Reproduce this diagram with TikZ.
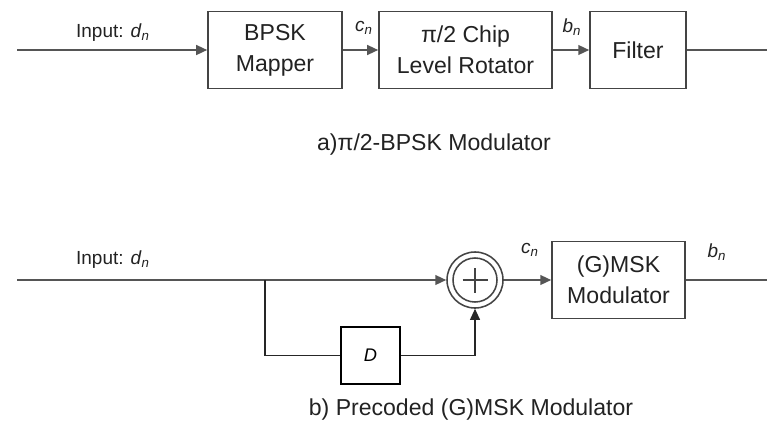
\documentclass[tikz,border=0pt]{standalone}
\usepackage{fontspec}
\setmainfont{Liberation Sans}
\usepackage{tikz}
\usetikzlibrary{
    arrows.meta,
    positioning,
    calc,
}
\usepackage{xcolor}
\definecolor{wiregray}{HTML}{555555}
\definecolor{boxgray}{HTML}{444444}
\definecolor{textgray}{HTML}{222222}
\newcommand{\sig}[2]{\textit{#1}\textsubscript{\textit{#2}}}

\begin{document}
\begin{tikzpicture}[
    x=0.025cm, y=0.025cm,
    >={Triangle[length=7.8pt, width=7pt]},
    blk/.style  = {rectangle, draw=boxgray, line width=1.1pt,
                   minimum height=1.925cm, align=center,
                   text=textgray, font=\fontsize{16.4}{22}\selectfont},
    dbox/.style = {rectangle, draw=black, line width=1.7pt,
                   minimum width=1.475cm, minimum height=1.425cm,
                   font=\fontsize{13}{15}\selectfont},
    ring/.style = {circle, draw=boxgray, line width=1.1pt, inner sep=0pt},
    wire/.style = {draw=wiregray, line width=1.2pt},
    fine/.style = {draw=black!85, line width=0.9pt},
    lbl/.style  = {text=textgray, font=\fontsize{13.5}{16}\selectfont},
    caption/.style = {text=textgray, font=\fontsize{16.4}{20}\selectfont},
]
\useasboundingbox (0,0) rectangle (767,424);

%% ── a) pi/2-BPSK modulator ───────────────────────────────────────────────────
\coordinate (inA)  at ( 17, 374);
\coordinate (outA) at (767, 374);
\node[blk, minimum width=3.35cm]  (mapper) at (275.0, 374) {BPSK\\Mapper};
\node[blk, minimum width=4.325cm] (rot)    at (465.5, 374) {π/2 Chip\\Level Rotator};
\node[blk, minimum width=2.4cm]   (filt)   at (638.0, 374) {Filter};

\draw[wire, ->] (inA)    -- (mapper);
\draw[wire, ->] (mapper) -- (rot);
\draw[wire, ->] (rot)    -- (filt);
\draw[wire]     (filt)   -- (outA);

\node[lbl] (inlblA) at (113, 391) {Input: \sig{d}{n}};
\node[lbl] (cnA)    at (364, 396) {\sig{c}{n}};
\node[lbl] (bnA)    at (572, 397) {\sig{b}{n}};
\node[caption] (capA) at (434, 279) {a)π/2-BPSK Modulator};

%% ── b) precoded (G)MSK modulator ─────────────────────────────────────────────
\coordinate (inB)  at ( 17, 144);
\coordinate (tap)  at (265, 144);
\coordinate (outB) at (767, 144);
\node[ring, minimum size=1.4cm]  (xor)   at (475, 144) {};
\node[ring, minimum size=1.1cm]  (xorin) at (xor) {};
\draw[boxgray, line width=1pt] ($(xor)+(-12.5,0)$) -- ($(xor)+(12.5,0)$)
                               ($(xor)+(0,-12.5)$) -- ($(xor)+(0,12.5)$);
\node[blk, minimum width=3.325cm] (gmsk) at (618.5, 144) {(G)MSK\\Modulator};
\node[dbox] (dly) at (370.5, 68.5) {\textit{D}};

\draw[wire, ->] (inB)  -- (xor);
\draw[fine]     (tap)  |- (dly);
\draw[fine, ->] (dly)  -| (xor);
\draw[wire, ->] (xor)  -- (gmsk);
\draw[wire]     (gmsk) -- (outB);

\node[lbl] (inlblB) at (113, 164) {Input: \sig{d}{n}};
\node[lbl] (cnB)    at (530, 174) {\sig{c}{n}};
\node[lbl] (bnB)    at (717, 172) {\sig{b}{n}};
\node[caption] (capB) at (471,  14) {b) Precoded (G)MSK Modulator};

\end{tikzpicture}
\end{document}
